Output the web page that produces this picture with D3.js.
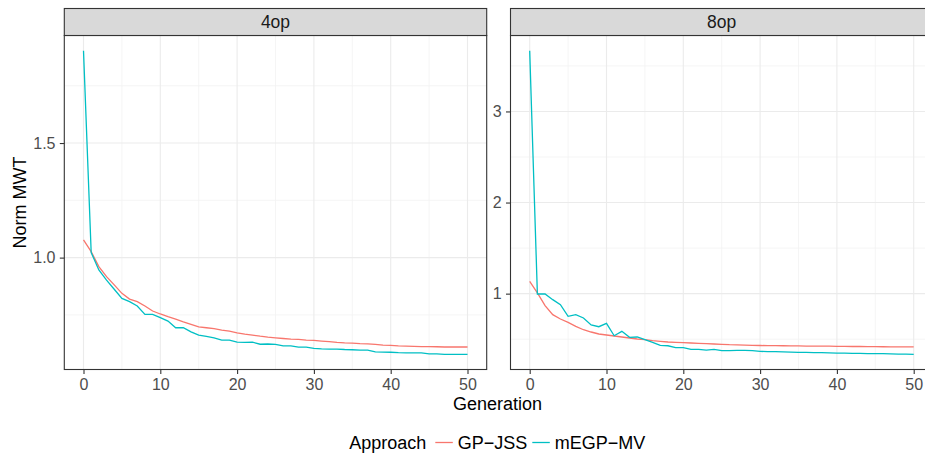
<!DOCTYPE html>
<html>
<head>
<meta charset="utf-8">
<script src="https://cdn.jsdelivr.net/npm/d3@7"></script>
<style>
  body { margin: 0; background: #fff; }
  text { font-family: "Liberation Sans", Arial, sans-serif; }
</style>
</head>
<body>
<div id="vis"></div>
<script>
const WIDTH = 925;
const HEIGHT = 455;

// data
const generations = d3.range(0, 51);
const facets = ["4op", "8op"];
const approaches = ["GP−JSS", "mEGP−MV"];
const colours = ["#F8766D", "#00BFC4"];

const gp4 = [1.077, 1.026, 0.961, 0.917, 0.881, 0.844, 0.819, 0.808, 0.789, 0.767,
  0.754, 0.742, 0.732, 0.720, 0.709, 0.698, 0.694, 0.690, 0.684, 0.679,
  0.672, 0.666, 0.662, 0.657, 0.653, 0.650, 0.647, 0.644, 0.643, 0.640,
  0.639, 0.636, 0.633, 0.630, 0.628, 0.627, 0.625, 0.624, 0.621, 0.618,
  0.617, 0.615, 0.614, 0.613, 0.612, 0.612, 0.611, 0.610, 0.610, 0.610, 0.610];
const megp4 = [1.903, 1.022, 0.946, 0.902, 0.862, 0.822, 0.808, 0.789, 0.752, 0.752,
  0.738, 0.723, 0.694, 0.694, 0.676, 0.662, 0.656, 0.650, 0.640, 0.640,
  0.631, 0.630, 0.631, 0.622, 0.623, 0.621, 0.615, 0.615, 0.609, 0.609,
  0.604, 0.602, 0.601, 0.601, 0.599, 0.598, 0.596, 0.596, 0.589, 0.588,
  0.587, 0.585, 0.584, 0.584, 0.584, 0.580, 0.580, 0.578, 0.578, 0.578, 0.578];
const gp8 = [1.135, 1.008, 0.868, 0.769, 0.722, 0.685, 0.641, 0.604, 0.579, 0.557,
  0.546, 0.535, 0.524, 0.513, 0.502, 0.495, 0.484, 0.477, 0.469, 0.466,
  0.462, 0.458, 0.455, 0.451, 0.447, 0.444, 0.440, 0.438, 0.436, 0.433,
  0.431, 0.430, 0.429, 0.428, 0.427, 0.426, 0.425, 0.424, 0.423, 0.423,
  0.422, 0.421, 0.420, 0.420, 0.419, 0.418, 0.417, 0.416, 0.416, 0.415, 0.415];
const megp8 = [3.667, 0.996, 0.996, 0.934, 0.879, 0.751, 0.769, 0.733, 0.656, 0.637,
  0.674, 0.538, 0.586, 0.520, 0.524, 0.495, 0.466, 0.432, 0.428, 0.407,
  0.407, 0.388, 0.388, 0.381, 0.388, 0.374, 0.374, 0.377, 0.377, 0.374,
  0.366, 0.364, 0.363, 0.361, 0.359, 0.355, 0.355, 0.353, 0.352, 0.350,
  0.348, 0.346, 0.344, 0.344, 0.342, 0.341, 0.341, 0.339, 0.337, 0.337, 0.334];

const xTicks = [0, 10, 20, 30, 40, 50];
const xMinor = [5, 15, 25, 35, 45];
const yTicks4 = [1.0, 1.5];
const yMinor4 = [0.75, 1.25, 1.75];
const yTicks8 = [1, 2, 3];
const yMinor8 = [0.5, 1.5, 2.5, 3.5];

const seriesByFacet = [[gp4, megp4], [gp8, megp8]];
const yTicksByFacet = [yTicks4, yTicks8];
const yMinorByFacet = [yMinor4, yMinor8];
const yFormat = [d3.format(".1f"), d3.format("d")];

// layout
const PANEL_LEFT = [64.3, 510.5];
const PANEL_W = 422.4;
const STRIP_TOP = 8.5;
const STRIP_H = 27;
const PANEL_TOP = STRIP_TOP + STRIP_H;
const PANEL_BOTTOM = 369.5;

const svg = d3.select("#vis").append("svg")
  .attr("width", WIDTH)
  .attr("height", HEIGHT);

function expand(lo, hi) {
  const pad = (hi - lo) * 0.05;
  return [lo - pad, hi + pad];
}

facets.forEach((facet, i) => {
  const left = PANEL_LEFT[i];
  const series = seriesByFacet[i];
  const all = series.flat();

  const X = d3.scaleLinear()
    .domain(expand(0, 50))
    .range([left, left + PANEL_W]);
  const Y = d3.scaleLinear()
    .domain(expand(d3.min(all), d3.max(all)))
    .range([PANEL_BOTTOM, PANEL_TOP]);

  const g = svg.append("g");

  g.append("rect")
    .attr("x", left).attr("y", PANEL_TOP)
    .attr("width", PANEL_W).attr("height", PANEL_BOTTOM - PANEL_TOP)
    .attr("fill", "#fff");

  // minor grid
  g.selectAll(".xminor").data(xMinor).enter().append("line")
    .attr("x1", d => X(d)).attr("x2", d => X(d))
    .attr("y1", PANEL_TOP).attr("y2", PANEL_BOTTOM)
    .attr("stroke", "#f2f2f2").attr("stroke-width", 0.8);
  g.selectAll(".yminor").data(yMinorByFacet[i]).enter().append("line")
    .attr("x1", left).attr("x2", left + PANEL_W)
    .attr("y1", d => Y(d)).attr("y2", d => Y(d))
    .attr("stroke", "#f2f2f2").attr("stroke-width", 0.8);

  // major grid
  g.selectAll(".xmajor").data(xTicks).enter().append("line")
    .attr("x1", d => X(d)).attr("x2", d => X(d))
    .attr("y1", PANEL_TOP).attr("y2", PANEL_BOTTOM)
    .attr("stroke", "#ebebeb").attr("stroke-width", 1.1);
  g.selectAll(".ymajor").data(yTicksByFacet[i]).enter().append("line")
    .attr("x1", left).attr("x2", left + PANEL_W)
    .attr("y1", d => Y(d)).attr("y2", d => Y(d))
    .attr("stroke", "#ebebeb").attr("stroke-width", 1.1);

  // lines
  const line = d3.line()
    .x((d, j) => X(generations[j]))
    .y(d => Y(d));
  series.forEach((vals, k) => {
    g.append("path")
      .datum(vals)
      .attr("d", line)
      .attr("fill", "none")
      .attr("stroke", colours[k])
      .attr("stroke-width", 1.3);
  });

  // panel border
  g.append("rect")
    .attr("x", left).attr("y", PANEL_TOP)
    .attr("width", PANEL_W).attr("height", PANEL_BOTTOM - PANEL_TOP)
    .attr("fill", "none").attr("stroke", "#333").attr("stroke-width", 1.1);

  // strip
  g.append("rect")
    .attr("x", left).attr("y", STRIP_TOP)
    .attr("width", PANEL_W).attr("height", STRIP_H)
    .attr("fill", "#d9d9d9").attr("stroke", "#333").attr("stroke-width", 1.1);
  g.append("text")
    .attr("x", left + PANEL_W / 2).attr("y", 27.7)
    .attr("text-anchor", "middle")
    .attr("font-size", 17.5)
    .attr("fill", "#1a1a1a")
    .text(facet);

  // axes
  const xAxis = g.append("g")
    .attr("transform", `translate(0,${PANEL_BOTTOM})`)
    .call(d3.axisBottom(X).tickValues(xTicks).tickSize(4.5).tickPadding(4.5));
  const yAxis = g.append("g")
    .attr("transform", `translate(${left},0)`)
    .call(d3.axisLeft(Y).tickValues(yTicksByFacet[i]).tickFormat(yFormat[i]).tickSize(4.5).tickPadding(4.3));
  [xAxis, yAxis].forEach(ax => {
    ax.select(".domain").remove();
    ax.selectAll(".tick line").attr("stroke", "#333").attr("stroke-width", 1.1);
    ax.selectAll(".tick text")
      .attr("fill", "#4d4d4d")
      .attr("font-size", 16)
      .attr("font-family", "Liberation Sans, Arial, sans-serif");
  });
});

// axis titles
svg.append("text")
  .attr("x", 497.5).attr("y", 409.5)
  .attr("text-anchor", "middle")
  .attr("font-size", 18)
  .text("Generation");
svg.append("text")
  .attr("transform", `translate(26,${(PANEL_TOP + PANEL_BOTTOM) / 2}) rotate(-90)`)
  .attr("text-anchor", "middle")
  .attr("font-size", 18)
  .text("Norm MWT");

// legend
const legend = svg.append("g").attr("transform", "translate(349.3,449)");
legend.append("text")
  .attr("x", 0).attr("y", 0)
  .attr("font-size", 18)
  .text("Approach");
const keyX = [86, 183];
approaches.forEach((a, k) => {
  legend.append("line")
    .attr("x1", keyX[k]).attr("x2", keyX[k] + 17.5)
    .attr("y1", -6.5).attr("y2", -6.5)
    .attr("stroke", colours[k]).attr("stroke-width", 1.3);
  legend.append("text")
    .attr("x", keyX[k] + 22.5).attr("y", 0)
    .attr("font-size", 18)
    .text(a);
});
</script>
</body>
</html>
